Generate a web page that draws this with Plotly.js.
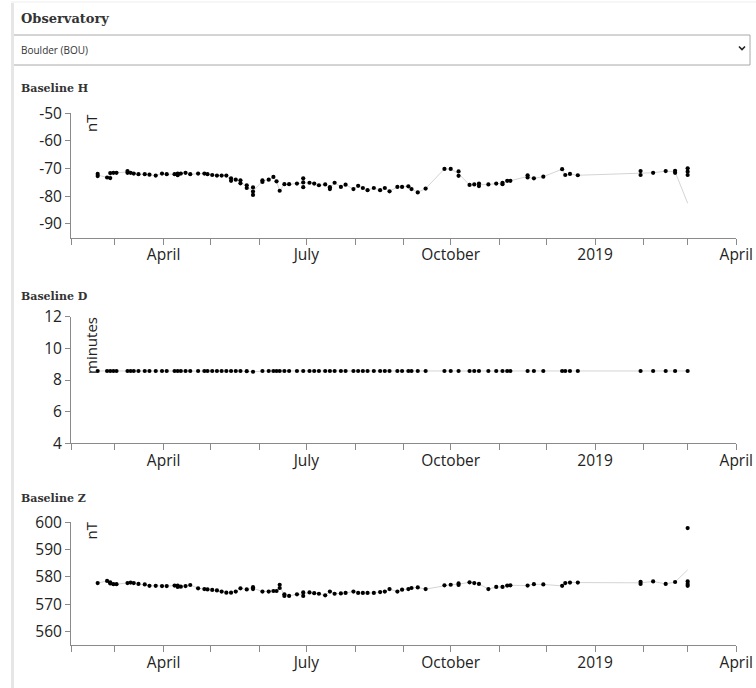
<!DOCTYPE html>
<html>
<head>
<meta charset="utf-8">
<script src="https://cdn.plot.ly/plotly-3.0.1.min.js"></script>
<style>
html,body{margin:0;padding:0;background:#fff;}
#chart{width:756px;height:688px;}
</style>
</head>
<body>
<div id="chart"></div>
<script>
// ---- data ----
const dates = [
 '2018-02-18','2018-02-24','2018-02-26','2018-02-28','2018-03-02','2018-03-09','2018-03-11','2018-03-13',
 '2018-03-16','2018-03-20','2018-03-23','2018-03-27','2018-03-31','2018-04-03','2018-04-08','2018-04-10',
 '2018-04-12','2018-04-15','2018-04-18','2018-04-23','2018-04-27','2018-04-29','2018-05-02','2018-05-05',
 '2018-05-08','2018-05-11','2018-05-14','2018-05-17','2018-05-20','2018-05-24','2018-05-28','2018-06-03',
 '2018-06-07','2018-06-10','2018-06-12','2018-06-14','2018-06-17','2018-06-20','2018-06-25','2018-06-29',
 '2018-07-03','2018-07-06','2018-07-09','2018-07-13','2018-07-16','2018-07-19','2018-07-23','2018-07-26',
 '2018-07-31','2018-08-03','2018-08-06','2018-08-09','2018-08-13','2018-08-17','2018-08-20','2018-08-23',
 '2018-08-28','2018-08-31','2018-09-04','2018-09-06','2018-09-10','2018-09-15','2018-09-27','2018-10-01',
 '2018-10-06','2018-10-13','2018-10-16','2018-10-19','2018-10-25','2018-10-30','2018-11-03','2018-11-06',
 '2018-11-08','2018-11-19','2018-11-23','2018-11-29','2018-12-11','2018-12-13','2018-12-16','2018-12-21',
 '2019-01-30','2019-02-07','2019-02-15','2019-02-21','2019-03-01'
];

const hValues = [
 [-71.9,-72.7],[-73.2],[-71.6,-73.4],[-71.5],[-71.5],[-70.9,-71.5],[-71.5],[-71.8],
 [-72.0],[-72.0],[-72.2],[-72.5],[-71.8],[-72.0],[-72.0],[-71.8,-72.4],
 [-71.8],[-71.5],[-72.0],[-71.8],[-71.8],[-72.0],[-72.3],[-72.5],
 [-72.5],[-72.5],[-73.5,-74.4],[-74.0],[-74.2,-75.3],[-76.0,-77.0],[-76.8,-78.3,-79.5],[-74.2,-74.8],
 [-74.0],[-73.0],[-74.6],[-78.0],[-75.6],[-75.6],[-75.4],[-73.5,-75.0,-76.7],
 [-75.1],[-75.4],[-76.0],[-75.7],[-76.7,-77.4],[-75.1],[-76.6],[-75.8],
 [-77.4],[-76.2],[-77.0],[-77.8],[-77.0],[-77.8],[-77.0],[-78.2],
 [-76.6],[-76.6],[-76.4],[-77.4],[-78.6],[-77.2],[-70.1],[-70.1],
 [-71.0,-72.6],[-75.9],[-75.7],[-75.4,-76.3],[-75.7],[-75.4],[-75.1,-75.6],[-74.4],
 [-74.4],[-72.4,-73.2],[-73.5],[-72.9],[-70.2],[-72.3],[-71.9],[-72.4],
 [-70.9,-72.3],[-71.5],[-70.9],[-70.8,-71.5],[-69.9,-71.1,-72.3,-116.7]
];

const dValues = [
 [8.57],[8.57],[8.57],[8.57],[8.57],[8.57],[8.57],[8.57],
 [8.57],[8.57],[8.57],[8.57],[8.57],[8.57],[8.57],[8.57],
 [8.57],[8.57],[8.57],[8.57],[8.57],[8.57],[8.57],[8.57],
 [8.57],[8.57],[8.57],[8.57],[8.57],[8.56],[8.52],[8.57],
 [8.57],[8.57],[8.57],[8.57],[8.57],[8.57],[8.57],[8.57],
 [8.57],[8.57],[8.57],[8.57],[8.57],[8.57],[8.57],[8.57],
 [8.57],[8.57],[8.57],[8.57],[8.57],[8.57],[8.57],[8.57],
 [8.57],[8.57],[8.57],[8.57],[8.57],[8.57],[8.57],[8.57],
 [8.57],[8.57],[8.57],[8.57],[8.57],[8.57],[8.57],[8.57],
 [8.57],[8.57],[8.57],[8.57],[8.57],[8.57],[8.57],[8.57],
 [8.57],[8.57],[8.57],[8.57],[8.57]
];

const zValues = [
 [577.7],[578.5],[577.6,578.0],[577.3],[577.3],[577.7],[577.9],[577.7],
 [577.4],[577.2],[576.7],[576.7],[576.6],[576.6],[576.8],[576.3,576.8],
 [576.4],[576.6],[577.0],[575.8],[575.5],[575.4],[575.2],[575.0],
 [574.6],[574.2],[574.2],[574.6],[575.8],[575.4],[575.5,576.2],[574.6],
 [574.6],[574.8],[574.8],[575.9,577.1],[573.6,573.0],[573.0],[573.6],[574.3,573.0],
 [574.3],[574.0],[573.8],[573.2],[574.6],[573.8],[573.9],[574.1],
 [574.6],[574.1],[574.1],[574.1],[574.1],[574.4],[574.6],[575.5],
 [574.6],[575.3],[575.5],[575.9],[576.1],[575.5],[576.9],[577.1],
 [577.0,577.6],[578.0],[577.7],[577.4],[575.5],[576.3],[576.3],[576.8],
 [576.9],[576.8],[577.3],[577.2],[576.7],[577.7],[577.9],[577.9],
 [578.2,577.4],[578.3],[577.4],[578.1],[578.3,577.4,576.7,597.9]
];

const xTickVals = ['2018-02-01','2018-03-01','2018-04-01','2018-05-01','2018-06-01','2018-07-01','2018-08-01',
 '2018-09-01','2018-10-01','2018-11-01','2018-12-01','2019-01-01','2019-02-01','2019-03-01','2019-04-01'];
const xTickText = ['','','April','','','July','','','October','','','2019','','','April'];

const panelTitles = ['Baseline H','Baseline D','Baseline Z'];
const unitLabels = ['nT','minutes','nT'];
const yTicks = [[-90,-80,-70,-60,-50],[4,6,8,10,12],[560,570,580,590,600]];
const yTickText = [['-90','-80','-70','-60','-50'],['4','6','8','10','12'],['560','570','580','590','600']];
const yRanges = [[-95,-50],[4,12],[555,600]];

// ---- build ----
const W = 756, H = 688;
const px = x => x / W;
const py = y => 1 - y / H;

function pointsOf(vals){
  const x = [], y = [];
  vals.forEach((arr,i) => arr.forEach(v => { x.push(dates[i]); y.push(v); }));
  return {x, y};
}
function meanLine(vals){
  const x = [], y = [];
  vals.forEach((arr,i) => { if(arr.length){ x.push(dates[i]); y.push(arr.reduce((a,b)=>a+b,0)/arr.length); } });
  return {x, y};
}

const series = [hValues, dValues, zValues];
const traces = [];
series.forEach((vals, k) => {
  const suffix = k === 0 ? '' : String(k+1);
  const l = meanLine(vals);
  traces.push({x:l.x, y:l.y, type:'scatter', mode:'lines', line:{color:'#d4d4d4', width:1},
    xaxis:'x'+suffix, yaxis:'y'+suffix, hoverinfo:'skip', showlegend:false});
  const p = pointsOf(vals);
  traces.push({x:p.x, y:p.y, type:'scatter', mode:'markers', marker:{color:'#000', size:4.2},
    xaxis:'x'+suffix, yaxis:'y'+suffix, showlegend:false});
});

const panels = [
  {top:113.3, bottom:237.8, head:88},
  {top:316.7, bottom:443.3, head:296},
  {top:522.3, bottom:645.0, head:499}
];

const tickFont = {family: '"Open Sans", "Noto Sans", sans-serif', size: 15.5, color: '#222'};

const layout = {
  width: W, height: H,
  margin: {l:0, r:0, t:0, b:0},
  paper_bgcolor: '#fff', plot_bgcolor: '#fff',
  showlegend: false,
  font: {family: '"Open Sans", "Noto Sans", sans-serif', size: 14, color: '#222'},
  annotations: [], shapes: []
};

panels.forEach((p, k) => {
  const suffix = k === 0 ? '' : String(k+1);
  layout['xaxis'+suffix] = {
    domain: [px(71), px(736.3)], anchor: 'y'+suffix, type: 'date',
    range: ['2018-02-01','2019-04-01'],
    tickmode: 'array', tickvals: xTickVals, ticktext: xTickText,
    ticks: 'outside', ticklen: 6, tickwidth: 1, tickcolor: '#8a8a8a',
    ticklabelstandoff: -3,
    showline: true, linecolor: '#8a8a8a', linewidth: 1,
    showgrid: false, zeroline: false, fixedrange: true,
    tickfont: tickFont
  };
  layout['yaxis'+suffix] = {
    domain: [py(p.bottom), py(p.top)], anchor: 'x'+suffix,
    range: yRanges[k], tickmode: 'array', tickvals: yTicks[k], ticktext: yTickText[k],
    ticks: 'outside', ticklen: 5, tickwidth: 1, tickcolor: '#8a8a8a',
    showline: true, linecolor: '#8a8a8a', linewidth: 1,
    showgrid: false, zeroline: false, fixedrange: true,
    tickfont: tickFont
  };
  layout.annotations.push({
    text: '<b>' + panelTitles[k] + '</b>', xref:'paper', yref:'paper',
    x: px(18.5), y: py(p.head), xanchor:'left', yanchor:'middle', showarrow:false,
    font: {family: '"DejaVu Serif", serif', size: 11, color: '#333'}
  });
});

// unit labels (rotated, inside plot near the top)
[[91, 123],[91, 346],[90, 530.5]].forEach((c, k) => {
  layout.annotations.push({
    text: unitLabels[k], xref:'paper', yref:'paper', x: px(c[0]), y: py(c[1]),
    xanchor:'center', yanchor:'middle', textangle: -90, showarrow:false,
    font: {family: '"Open Sans", sans-serif', size: 15, color: '#222'}
  });
});

// header
layout.annotations.push({
  text: '<b>Observatory</b>', xref:'paper', yref:'paper', x: px(18.5), y: py(18),
  xanchor:'left', yanchor:'middle', showarrow:false,
  font: {family: '"DejaVu Serif", serif', size: 13, color: '#333'}
});
layout.annotations.push({
  text: 'Boulder (BOU)', xref:'paper', yref:'paper', x: px(18.5), y: py(50),
  xanchor:'left', yanchor:'middle', showarrow:false,
  font: {family: '"Open Sans", sans-serif', size: 10, color: '#333'}
});

// dropdown box, chevron and card edge
layout.shapes.push({type:'rect', xref:'paper', yref:'paper', x0:px(12.5), x1:px(750), y0:py(35), y1:py(65),
  line:{color:'#a8a8a8', width:1}, fillcolor:'rgba(0,0,0,0)'});
layout.shapes.push({type:'path', xref:'paper', yref:'paper',
  path: `M ${px(739)} ${py(46.5)} L ${px(742)} ${py(49.5)} L ${px(745)} ${py(46.5)}`,
  line:{color:'#222', width:1.6}});
layout.shapes.push({type:'rect', xref:'paper', yref:'paper', x0:px(11), x1:px(14), y0:0, y1:py(3),
  line:{width:0}, fillcolor:'#e6e6e6'});
layout.shapes.push({type:'line', xref:'paper', yref:'paper', x0:px(11), x1:1, y0:py(2), y1:py(2),
  line:{color:'#eeeeee', width:1}});

Plotly.newPlot('chart', traces, layout, {displayModeBar:false, staticPlot:true});
</script>
</body>
</html>
